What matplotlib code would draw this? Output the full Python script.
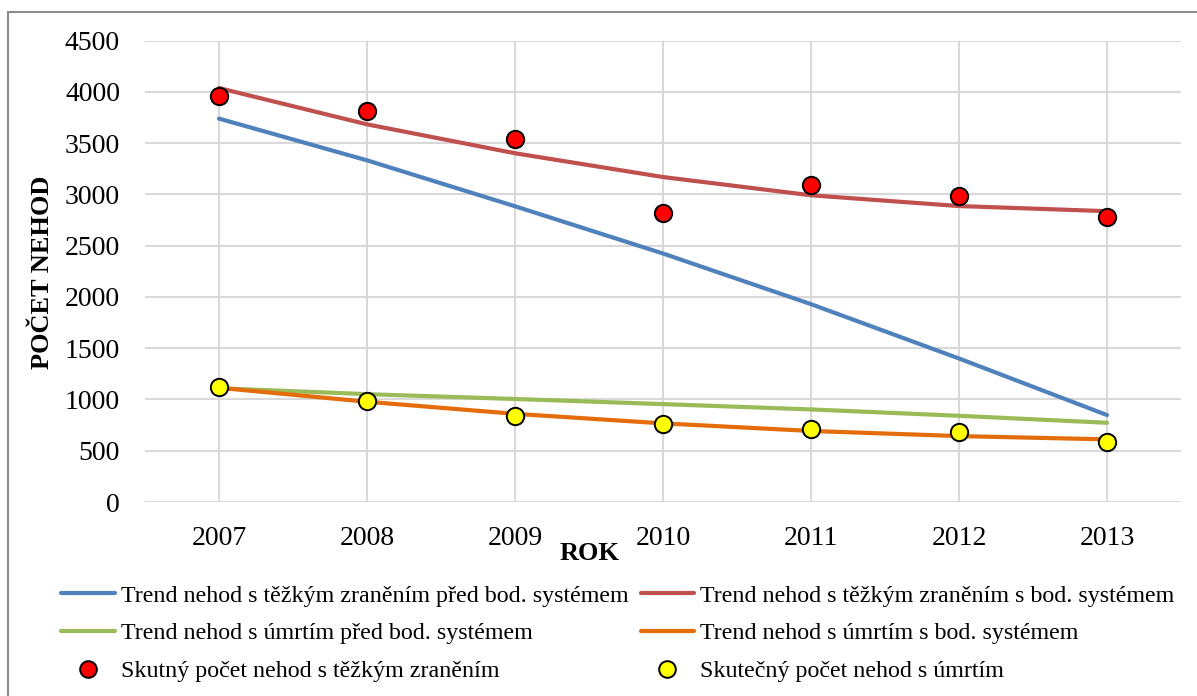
import matplotlib.pyplot as plt
from matplotlib.lines import Line2D
from matplotlib.patches import Rectangle

plt.rcParams["font.family"] = ["Liberation Serif", "DejaVu Serif"]

years = [2007, 2008, 2009, 2010, 2011, 2012, 2013]

# trend lines
trend_injury_before = [3740, 3333, 2885, 2424, 1930, 1400, 848]
trend_injury_after = [4038, 3684, 3402, 3170, 2992, 2887, 2837]
trend_death_before = [1110, 1052, 1005, 955, 903, 841, 773]
trend_death_after = [1114, 978, 860, 767, 693, 643, 611]

# actual counts
actual_injury = [3960, 3811, 3540, 2822, 3090, 2985, 2781]
actual_death = [1121, 987, 838, 757, 709, 679, 582]

yticks = [0, 500, 1000, 1500, 2000, 2500, 3000, 3500, 4000, 4500]

labels = [
    "Trend nehod s těžkým zraněním před bod. systémem",
    "Trend nehod s těžkým zraněním s bod. systémem",
    "Trend nehod s úmrtím před bod. systémem",
    "Trend nehod s úmrtím s bod. systémem",
    "Skutný počet nehod s těžkým zraněním",
    "Skutečný počet nehod s úmrtím",
]

C_BLUE = "#4F81BD"
C_RED = "#C0504D"
C_GREEN = "#9BBB59"
C_ORANGE = "#E46C0A"

W, H = 1197, 696
fig = plt.figure(figsize=(W / 100, H / 100), dpi=100)
ax = fig.add_axes([145 / W, 1 - 502 / H, (1181 - 145) / W, (502 - 40.7) / H])

x = list(range(len(years)))
lw = 3.0
ax.plot(x, trend_injury_before, color=C_BLUE, lw=lw, solid_capstyle="round", zorder=3)
ax.plot(x, trend_injury_after, color=C_RED, lw=lw, solid_capstyle="round", zorder=3)
ax.plot(x, trend_death_before, color=C_GREEN, lw=lw, solid_capstyle="round", zorder=3)
ax.plot(x, trend_death_after, color=C_ORANGE, lw=lw, solid_capstyle="round", zorder=3)
ax.plot(x, actual_injury, ls="none", marker="o", ms=12.5, mfc="#FF0000",
        mec="black", mew=1.4, zorder=4)
ax.plot(x, actual_death, ls="none", marker="o", ms=12.5, mfc="#FFFF00",
        mec="black", mew=1.4, zorder=4)

ax.set_xlim(-0.5, len(years) - 0.5)
ax.set_ylim(0, 4500)
ax.set_xticks(x)
ax.set_xticklabels([str(y) for y in years])
ax.set_yticks(yticks)
ax.tick_params(length=0, labelsize=20, colors="black")
ax.tick_params(axis="y", pad=18)
ax.tick_params(axis="x", pad=17)
ax.grid(True, color="#D9D9D9", lw=1.5)
ax.set_axisbelow(True)
for s in ax.spines.values():
    s.set_visible(False)

fig.text(43 / W, 1 - 272 / H, "POČET NEHOD", rotation=90, ha="center", va="center",
         fontsize=19, fontweight="bold")
fig.text(590 / W, 1 - 554 / H, "ROK", ha="center", va="center",
         fontsize=19, fontweight="bold")

# legend: two columns, row-major order as in the label list
line_kw = dict(lw=lw, solid_capstyle="round")
dot_kw = dict(ls="none", marker="o", ms=12, mec="black", mew=1.4)
handles = [
    Line2D([], [], color=C_BLUE, **line_kw),
    Line2D([], [], color=C_RED, **line_kw),
    Line2D([], [], color=C_GREEN, **line_kw),
    Line2D([], [], color=C_ORANGE, **line_kw),
    Line2D([], [], mfc="#FF0000", **dot_kw),
    Line2D([], [], mfc="#FFFF00", **dot_kw),
]
order = [0, 2, 4, 1, 3, 5]
fig.legend([handles[i] for i in order], [labels[i] for i in order],
           ncol=2, loc="upper left", bbox_to_anchor=(61 / W, 1 - 585 / H),
           frameon=False, fontsize=17.25, handlelength=2.25, handletextpad=0.25,
           columnspacing=0.5, labelspacing=0.66, borderaxespad=0, borderpad=0)

fig.patches.append(Rectangle((8 / W, -0.1), 1.2, 1 - 12 / H + 0.1,
                             transform=fig.transFigure, fill=False,
                             ec="#8C8C8C", lw=1.5))

fig.savefig("out.png", dpi=100)
